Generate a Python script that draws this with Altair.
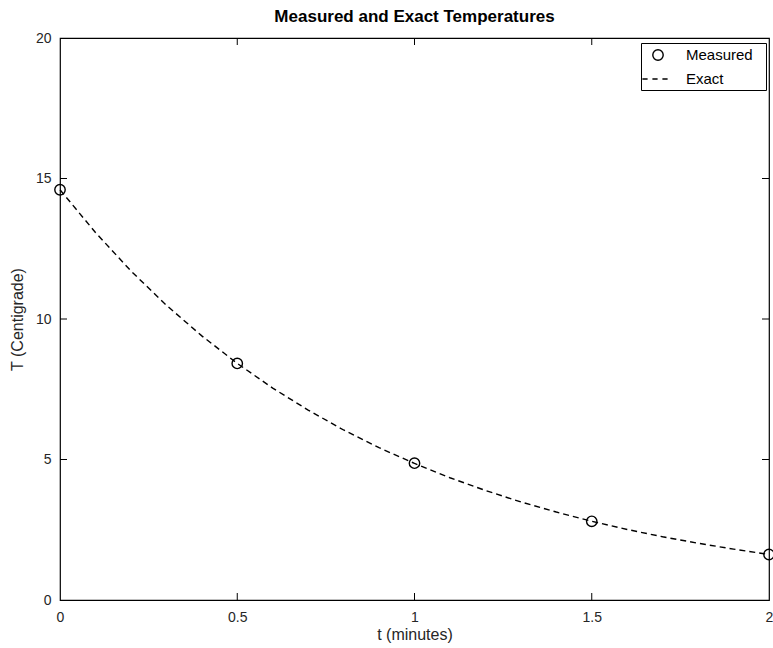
import altair as alt
import pandas as pd

# Measured data
t_meas = [0.0, 0.5, 1.0, 1.5, 2.0]
T_meas = [14.6, 8.42, 4.87, 2.80, 1.62]

# Exact curve
t_exact = [0.0, 0.1, 0.2, 0.3, 0.4, 0.5, 0.6, 0.7, 0.8, 0.9, 1.0,
           1.1, 1.2, 1.3, 1.4, 1.5, 1.6, 1.7, 1.8, 1.9, 2.0]
T_exact = [14.6, 13.08, 11.71, 10.49, 9.40, 8.42, 7.54, 6.76, 6.05, 5.42, 4.86,
           4.35, 3.90, 3.49, 3.13, 2.80, 2.51, 2.25, 2.02, 1.81, 1.62]

x_ticks = [0, 0.5, 1, 1.5, 2]
y_ticks = [0, 5, 10, 15, 20]
x_inner = [0.5, 1.0, 1.5]
y_inner = [5, 10, 15]

series = ["Measured", "Exact"]

W, H = 709, 562
FONT = "Liberation Sans"

meas_df = pd.DataFrame({"t": t_meas, "T": T_meas, "series": "Measured"})
exact_df = pd.DataFrame({"t": t_exact, "T": T_exact})
xt_df = pd.DataFrame({"t": x_inner})
yt_df = pd.DataFrame({"T": y_inner})

xscale = alt.Scale(domain=[0, 2], nice=False, zero=False)
yscale = alt.Scale(domain=[0, 20], nice=False)

circle_path = "M-0.65,0A0.65,0.65,0,1,0,0.65,0A0.65,0.65,0,1,0,-0.65,0Z"
dash_path = "M-1.95,0H-1.3M-0.7,0H-0.05M0.55,0H1.2"

x_enc = alt.X("t:Q", scale=xscale,
              axis=alt.Axis(title="t (minutes)", values=x_ticks, format="~g",
                            labelFlush=False))
y_enc = alt.Y("T:Q", scale=yscale,
              axis=alt.Axis(title="T (Centigrade)", values=y_ticks, format="~g",
                            labelFlush=False))

line = alt.Chart(exact_df).mark_line(
    color="black", strokeWidth=1.4, strokeDash=[6, 4]
).encode(x=x_enc, y=y_enc)

points = alt.Chart(meas_df).mark_point(
    filled=False, color="black", strokeWidth=1.4, size=256, opacity=1
).encode(
    x=alt.X("t:Q", scale=xscale),
    y=alt.Y("T:Q", scale=yscale),
    shape=alt.Shape(
        "series:N",
        scale=alt.Scale(domain=series, range=[circle_path, dash_path]),
        legend=alt.Legend(
            title="\u00a0", titleOrient="right", titlePadding=10, titleFontSize=10,
            orient="none", legendX=581, legendY=5,
            strokeColor="black", fillColor="white", padding=3,
            symbolSize=256, symbolStrokeColor="black",
            symbolFillColor="transparent", symbolStrokeWidth=1.4,
            symbolOffset=5, labelOffset=19,
            labelFont=FONT, labelFontSize=15, labelColor="black",
            rowPadding=7,
        ),
    ),
)

tick_len = 7
bottom_ticks = alt.Chart(xt_df).mark_rule(color="black", strokeWidth=1).encode(
    x=alt.X("t:Q", scale=xscale),
    y=alt.value(H), y2=alt.value(H - tick_len))
top_ticks = alt.Chart(xt_df).mark_rule(color="black", strokeWidth=1).encode(
    x=alt.X("t:Q", scale=xscale),
    y=alt.value(0), y2=alt.value(tick_len))
left_ticks = alt.Chart(yt_df).mark_rule(color="black", strokeWidth=1).encode(
    y=alt.Y("T:Q", scale=yscale),
    x=alt.value(0), x2=alt.value(tick_len))
right_ticks = alt.Chart(yt_df).mark_rule(color="black", strokeWidth=1).encode(
    y=alt.Y("T:Q", scale=yscale),
    x=alt.value(W), x2=alt.value(W - tick_len))

chart = alt.layer(
    line, points, bottom_ticks, top_ticks, left_ticks, right_ticks
).properties(
    width=W, height=H,
    title=alt.Title("Measured and Exact Temperatures", font=FONT, fontSize=17,
                    fontWeight="bold", color="black", anchor="middle", offset=5),
    autosize=alt.AutoSizeParams(type="none"),
    padding={"left": 60, "top": 38, "right": 4, "bottom": 48},
).configure_view(
    stroke="black", strokeWidth=1.2
).configure_axis(
    domain=False, ticks=False, grid=False,
    labelFont=FONT, labelFontSize=14, labelColor="#262626",
    titleFont=FONT, titleFontSize=16, titleColor="#262626", titleFontWeight="normal",
).configure_axisX(
    labelPadding=10, titlePadding=2
).configure_axisY(
    labelPadding=9, titlePadding=10
)

chart.save("out.html", embed_options={"renderer": "svg", "actions": False})
